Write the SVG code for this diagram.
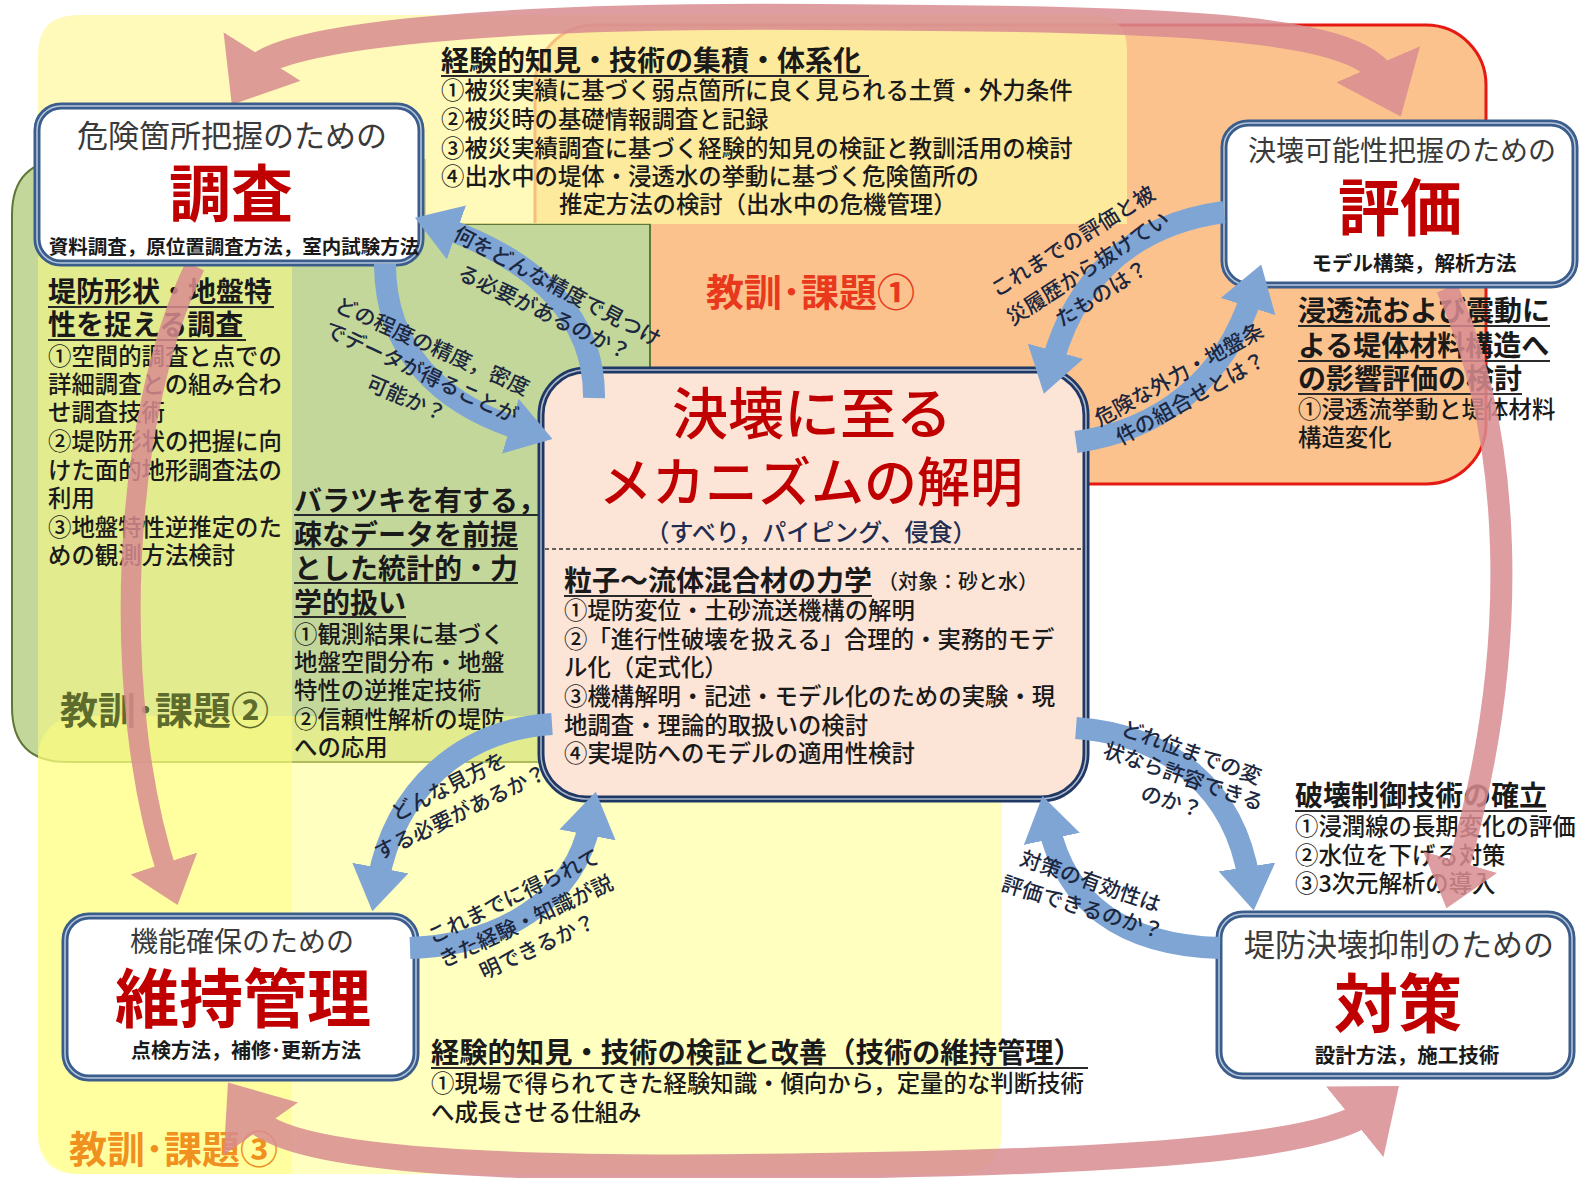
<svg xmlns="http://www.w3.org/2000/svg" width="1580" height="1178" viewBox="0 0 1580 1178">
<style>
text{font-family:"Noto Sans CJK JP","Noto Sans CJK SC",sans-serif}
.h{font-size:28px;font-weight:bold;fill:#1a1a1a}
.b{font-size:23.4px;font-weight:500;fill:#1a1a1a}
.q{font-size:21px;font-weight:500;fill:#1c2740}
.ul{stroke:#2a2a2a;stroke-width:2}
.box{fill:#fff;stroke:#3a5d8c;stroke-width:7}
.boxin{fill:none;stroke:#b9c8dc;stroke-width:1.5}
.sub{font-size:30px;fill:#3a3a3a}
.big{font-size:62px;font-weight:bold;fill:#c00000}
.sm{font-size:19.5px;font-weight:bold;fill:#1a1a1a}
.lab{font-size:38px;font-weight:bold}
.pk{fill:none;stroke:#d98c91}
.bl{fill:none;stroke:#7fa5d5;stroke-width:22}
</style>
<defs>
<marker id="ph" viewBox="0 0 10 16" refX="3" refY="8" markerWidth="2.2" markerHeight="3.5" orient="auto-start-reverse" markerUnits="strokeWidth"><path d="M0,0 L10,8 L0,16 Z" fill="#d98c91"/></marker>
<marker id="bh" viewBox="0 0 10 13" refX="3" refY="6.5" markerWidth="2" markerHeight="2.6" orient="auto" markerUnits="strokeWidth"><path d="M0,0 L10,6.5 L0,13 Z" fill="#7fa5d5"/></marker>
</defs>
<rect width="1580" height="1178" fill="#fff"/>
<g id="regions">
<rect x="535" y="25" width="951" height="459" rx="60" fill="#fbc28e" stroke="#e51a12" stroke-width="3"/>
<path d="M12,215 Q12,160 67,160 L425,160 L425,224 L650,224 L650,762 L67,762 Q12,762 12,707 Z" fill="#c4d79b" stroke="#5f7838" stroke-width="2"/>
<path d="M78,15 L1092,15 Q1127,15 1127,50 L1127,224 L38,224 L38,55 Q38,15 78,15 Z" fill="#fff8a0" opacity="0.74"/>
<path d="M38,224 L292,224 L292,1174 L78,1174 Q38,1174 38,1134 Z" fill="#ffff80" opacity="0.5"/>
<rect x="38" y="716" width="964" height="458" rx="40" fill="#ffff80" opacity="0.5"/>
<text class="lab" x="706" y="306" fill="#e8391d">教訓･課題①</text>
<text class="lab" x="60" y="724" fill="#5d6b2c">教訓･課題②</text>
<text class="lab" x="69" y="1163" fill="#f0901e">教訓･課題③</text>
</g>
<g id="text-top">
<text class="h" x="441" y="71">経験的知見・技術の集積・体系化</text>
<line class="ul" x1="441" y1="76" x2="869" y2="76"/>
<text class="b" x="441" y="99">①被災実績に基づく弱点箇所に良く見られる土質・外力条件</text>
<text class="b" x="441" y="128">②被災時の基礎情報調査と記録</text>
<text class="b" x="441" y="157">③被災実績調査に基づく経験的知見の検証と教訓活用の検討</text>
<text class="b" x="441" y="185">④出水中の堤体・浸透水の挙動に基づく危険箇所の</text>
<text class="b" x="559" y="213">推定方法の検討（出水中の危機管理）</text>
</g>
<g id="text-left">
<text class="h" x="48" y="302">堤防形状・地盤特</text>
<line class="ul" x1="48" y1="307" x2="274" y2="307"/>
<text class="h" x="48" y="335">性を捉える調査</text>
<line class="ul" x1="48" y1="340" x2="246" y2="340"/>
<text class="b" x="48" y="365">①空間的調査と点での</text>
<text class="b" x="48" y="393">詳細調査との組み合わ</text>
<text class="b" x="48" y="421">せ調査技術</text>
<text class="b" x="48" y="450">②堤防形状の把握に向</text>
<text class="b" x="48" y="479">けた面的地形調査法の</text>
<text class="b" x="48" y="507">利用</text>
<text class="b" x="48" y="536">③地盤特性逆推定のた</text>
<text class="b" x="48" y="564">めの観測方法検討</text>
</g>
<g id="text-midleft">
<text class="h" x="294" y="511">バラツキを有する，</text>
<line class="ul" x1="294" y1="515" x2="552" y2="515"/>
<text class="h" x="294" y="545">疎なデータを前提</text>
<line class="ul" x1="294" y1="549" x2="518" y2="549"/>
<text class="h" x="294" y="579">とした統計的・力</text>
<line class="ul" x1="294" y1="583" x2="518" y2="583"/>
<text class="h" x="294" y="613">学的扱い</text>
<line class="ul" x1="294" y1="617" x2="406" y2="617"/>
<text class="b" x="294" y="643">①観測結果に基づく</text>
<text class="b" x="294" y="671">地盤空間分布・地盤</text>
<text class="b" x="294" y="699">特性の逆推定技術</text>
<text class="b" x="294" y="728">②信頼性解析の堤防</text>
<text class="b" x="294" y="756">への応用</text>
</g>
<g id="text-right">
<text class="h" x="1298" y="321">浸透流および震動に</text>
<line class="ul" x1="1298" y1="326" x2="1550" y2="326"/>
<text class="h" x="1298" y="356">よる堤体材料構造へ</text>
<line class="ul" x1="1298" y1="361" x2="1550" y2="361"/>
<text class="h" x="1298" y="389">の影響評価の検討</text>
<line class="ul" x1="1298" y1="394" x2="1522" y2="394"/>
<text class="b" x="1298" y="418">①浸透流挙動と堤体材料</text>
<text class="b" x="1298" y="446">構造変化</text>
</g>
<g id="text-rightbottom">
<text class="h" x="1295" y="806">破壊制御技術の確立</text>
<line class="ul" x1="1295" y1="811" x2="1547" y2="811"/>
<text class="b" x="1295" y="835">①浸潤線の長期変化の評価</text>
<text class="b" x="1295" y="864">②水位を下げる対策</text>
<text class="b" x="1295" y="892">③3次元解析の導入</text>
</g>
<g id="text-bottom">
<text class="h" x="431" y="1063" style="font-size:28.3px">経験的知見・技術の検証と改善（技術の維持管理）</text>
<line class="ul" x1="431" y1="1068" x2="1088" y2="1068"/>
<text class="b" x="431" y="1092">①現場で得られてきた経験知識・傾向から，定量的な判断技術</text>
<text class="b" x="431" y="1121">へ成長させる仕組み</text>
</g>
<g id="connectors-pink" opacity="0.85">
<path class="pk" stroke-width="26" d="M253,71 C275,36 500,14 820,17 C1150,19 1360,22 1385,80" marker-start="url(#ph)" marker-end="url(#ph)"/>
<path class="pk" stroke-width="22" d="M1447,288 C1510,430 1525,640 1456,876" marker-end="url(#ph)"/>
<path class="pk" stroke-width="26" d="M251,1115 C290,1170 600,1170 820,1166 C1100,1162 1320,1150 1368,1111" marker-start="url(#ph)" marker-end="url(#ph)"/>
<path class="pk" stroke-width="20" d="M195,266 C120,420 110,700 168,876" marker-end="url(#ph)"/>
</g>
<g id="node-chosa">
<rect class="box" x="37" y="106" width="384" height="157" rx="24"/>
<rect class="boxin" x="37" y="106" width="384" height="157" rx="24"/>
<text class="sub" x="232" y="147" text-anchor="middle" style="font-size:31px">危険箇所把握のための</text>
<text class="big" x="231" y="217" text-anchor="middle">調査</text>
<text class="sm" x="234" y="254" text-anchor="middle">資料調査，原位置調査方法，室内試験方法</text>
</g>
<g id="node-hyoka">
<rect class="box" x="1224" y="123" width="351" height="162" rx="24"/>
<rect class="boxin" x="1224" y="123" width="351" height="162" rx="24"/>
<text class="sub" x="1402" y="161" text-anchor="middle" style="font-size:28px">決壊可能性把握のための</text>
<text class="big" x="1400" y="231" text-anchor="middle">評価</text>
<text class="sm" x="1414" y="271" text-anchor="middle" style="font-size:20.5px">モデル構築，解析方法</text>
</g>
<g id="node-iji">
<rect class="box" x="65" y="916" width="351" height="162" rx="24"/>
<rect class="boxin" x="65" y="916" width="351" height="162" rx="24"/>
<text class="sub" x="242" y="952" text-anchor="middle" style="font-size:28px">機能確保のための</text>
<text class="big" x="243" y="1022" text-anchor="middle" style="font-size:64px">維持管理</text>
<text class="sm" x="246" y="1058" text-anchor="middle" style="font-size:20px">点検方法，補修･更新方法</text>
</g>
<g id="node-taisaku">
<rect class="box" x="1219" y="914" width="353" height="162" rx="24"/>
<rect class="boxin" x="1219" y="914" width="353" height="162" rx="24"/>
<text class="sub" x="1399" y="956" text-anchor="middle" style="font-size:31px">堤防決壊抑制のための</text>
<text class="big" x="1398" y="1027" text-anchor="middle" style="font-size:64px">対策</text>
<text class="sm" x="1407" y="1063" text-anchor="middle" style="font-size:20.5px">設計方法，施工技術</text>
</g>
<g id="node-center">
<rect x="541" y="370" width="545" height="429" rx="45" fill="#fce4d6" stroke="#1f3864" stroke-width="7"/>
<rect x="541" y="370" width="545" height="429" rx="45" fill="none" stroke="#b0bace" stroke-width="1.5"/>
<text x="812" y="434" text-anchor="middle" style="font-size:56px;font-weight:500;fill:#c00000">決壊に至る</text>
<text x="811" y="502" text-anchor="middle" style="font-size:53px;font-weight:500;fill:#c00000">メカニズムの解明</text>
<text x="811" y="541" text-anchor="middle" style="font-size:24px;font-weight:500;fill:#1f2d50">（すべり，パイピング、侵食）</text>
<line x1="545" y1="549" x2="1082" y2="549" stroke="#333" stroke-width="1.5" stroke-dasharray="4,3"/>
<text class="h" x="564" y="591">粒子～流体混合材の力学</text>
<line class="ul" x1="564" y1="596" x2="872" y2="596"/>
<text x="878" y="589" style="font-size:20px;font-weight:500;fill:#1a1a1a">（対象：砂と水）</text>
<text class="b" x="564" y="619">①堤防変位・土砂流送機構の解明</text>
<text class="b" x="564" y="648">②「進行性破壊を扱える」合理的・実務的モデ</text>
<text class="b" x="564" y="676">ル化（定式化）</text>
<text class="b" x="564" y="705">③機構解明・記述・モデル化のための実験・現</text>
<text class="b" x="564" y="734">地調査・理論的取扱いの検討</text>
<text class="b" x="564" y="762">④実堤防へのモデルの適用性検討</text>
</g>
<g id="connectors-blue">
<path class="bl" d="M594,398 C595,320 540,262 444,228" marker-end="url(#bh)"/>
<path class="bl" d="M385,264 C385,350 440,405 523,430" marker-end="url(#bh)"/>
<path class="bl" d="M1224,212 C1130,225 1075,280 1052,364" marker-end="url(#bh)"/>
<path class="bl" d="M1076,442 C1160,430 1225,380 1252,294" marker-end="url(#bh)"/>
<path class="bl" d="M1076,728 C1170,735 1235,790 1249,880" marker-end="url(#bh)"/>
<path class="bl" d="M1220,948 C1120,945 1065,900 1049,826" marker-end="url(#bh)"/>
<path class="bl" d="M552,724 C460,730 395,790 378,881" marker-end="url(#bh)"/>
<path class="bl" d="M410,948 C500,945 575,900 590,822" marker-end="url(#bh)"/>
</g>
<g id="connector-labels" text-anchor="middle" dominant-baseline="central">
<text class="q" transform="translate(558,285) rotate(28)">何をどんな精度で見つけ</text>
<text class="q" transform="translate(545,311) rotate(26)">る必要があるのか？</text>
<text class="q" transform="translate(433,345) rotate(24)">どの程度の精度，密度</text>
<text class="q" transform="translate(422,371) rotate(25)">でデータが得ることが</text>
<text class="q" transform="translate(407,397) rotate(23)">可能か？</text>
<text class="q" transform="translate(1072,240) rotate(-32)">これまでの評価と被</text>
<text class="q" transform="translate(1087,267) rotate(-33)">災履歴から抜けてい</text>
<text class="q" transform="translate(1101,292) rotate(-32)">たものは？</text>
<text class="q" transform="translate(1178,373) rotate(-29)">危険な外力・地盤条</text>
<text class="q" transform="translate(1190,397) rotate(-29)">件の組合せとは？</text>
<text class="q" transform="translate(1192,751) rotate(20)">どれ位までの変</text>
<text class="q" transform="translate(1184,775) rotate(19)">状なら許容できる</text>
<text class="q" transform="translate(1172,800) rotate(17)">のか？</text>
<text class="q" transform="translate(1091,880) rotate(19)">対策の有効性は</text>
<text class="q" transform="translate(1083,906) rotate(17)">評価できるのか？</text>
<text class="q" transform="translate(448,785) rotate(-27)">どんな見方を</text>
<text class="q" transform="translate(460,811) rotate(-26)">する必要があるか？</text>
<text class="q" transform="translate(513,895) rotate(-26)">これまでに得られて</text>
<text class="q" transform="translate(525,920) rotate(-25)">きた経験・知識が説</text>
<text class="q" transform="translate(537,945) rotate(-25)">明できるか？</text>
</g>
</svg>
